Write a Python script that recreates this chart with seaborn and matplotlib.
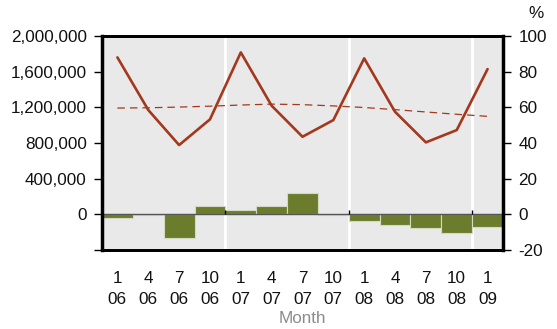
import matplotlib
matplotlib.use("Agg")
import matplotlib.pyplot as plt
import seaborn as sns
import numpy as np
import pandas as pd

months = ["1", "4", "7", "10", "1", "4", "7", "10", "1", "4", "7", "10", "1"]
years = ["06", "06", "06", "06", "07", "07", "07", "07", "08", "08", "08", "08", "09"]
volume = [1760000, 1170000, 777000, 1065000, 1816000, 1218000, 870000, 1057000,
          1749000, 1150000, 807000, 945000, 1629000]
trend = [1192000, 1195000, 1203000, 1213000, 1226000, 1236000, 1230000, 1216000,
         1198000, 1174000, 1148000, 1122000, 1099000]
growth_pct = [-1.9, -0.5, -13.5, 4.8, 2.6, 4.7, 12.1, -0.5, -3.6, -5.8, -7.7, -10.7, -7.1]
left_ticks = [0, 400000, 800000, 1200000, 1600000, 2000000]
right_ticks = [-20, 0, 20, 40, 60, 80, 100]

labels = [f"{m}\n{y}" for m, y in zip(months, years)]
df = pd.DataFrame({"label": labels, "x": np.arange(len(labels)), "volume": volume,
                   "trend": trend, "growth": growth_pct})

sns.set_theme(style="white")
plt.rcParams["font.family"] = ["Liberation Sans", "DejaVu Sans"]

fig = plt.figure(figsize=(5.57, 3.29), dpi=100)
ax2 = fig.add_axes([102/557, 1-250/329, 401/557, 214/329])
ax = ax2.twinx()
ax.yaxis.tick_left()
ax2.yaxis.tick_right()

ax.set_zorder(ax2.get_zorder() + 1)
ax.patch.set_visible(False)
ax2.set_facecolor("#e9e9e9")

bar_color = "#6b7d2d"
line_color = "#a3381d"

sns.barplot(data=df, x="label", y="growth", order=labels, ax=ax2, color=bar_color,
            saturation=1, width=1.0, edgecolor="#d4d9c4", linewidth=0.8, zorder=3)

sns.lineplot(data=df, x="x", y="volume", ax=ax, color=line_color, linewidth=1.9, zorder=5)
sns.lineplot(data=df, x="x", y="trend", ax=ax, color=line_color, linewidth=0.9,
             zorder=4).lines[-1].set_dashes([6, 4])

n = len(labels)
bounds = [i - 0.5 for i in range(1, n) if years[i] != years[i-1]]
for b in bounds:
    ax2.axvline(b, color="white", linewidth=2, zorder=1)
ax2.axhline(0, color="#555555", linewidth=1.0, zorder=4)
ax2.vlines(bounds, 0, 2.5, color="black", linewidth=1.0, zorder=4)

ax.set_ylim(-400000, 2000000)
ax2.set_ylim(-20, 100)
ax2.set_xlim(-0.5, n - 0.5)

ax.set_yticks([-400000] + left_ticks)
ax.set_yticklabels([""] + [f"{v:,}" for v in left_ticks])
ax2.set_yticks(right_ticks)
ax2.set_yticklabels([str(v) for v in right_ticks])

ax2.set_xticks(range(n))
ax2.set_xticklabels(labels, linespacing=1.5)
ax.tick_params(axis="x", bottom=False, labelbottom=False, top=False, labeltop=False)

for a in (ax, ax2):
    a.tick_params(axis="y", length=6, width=1, color="black", labelsize=12.3,
                  labelcolor="#111111", pad=5, direction="out")
    for s in a.spines.values():
        s.set_color("black")
        s.set_linewidth(2)
ax.spines["left"].set_linewidth(2.5)
ax.spines["right"].set_linewidth(2.5)
ax2.tick_params(axis="x", bottom=True, length=0, labelsize=12.3, labelcolor="#111111",
                pad=15, labelbottom=True)
ax.tick_params(axis="y", left=True, right=False, labelleft=True, labelright=False)
ax2.tick_params(axis="y", left=False, right=True, labelleft=False, labelright=True)

ax.set_ylabel("")
ax2.set_ylabel("")
ax.set_xlabel("")
ax2.set_xlabel("Month", color="#8c8c8c", fontsize=12.3, labelpad=3)

fig.text(536/557, 1-14/329, "%", ha="center", va="center", fontsize=12.3, color="#111111")

fig.savefig("out.png", dpi=100)
